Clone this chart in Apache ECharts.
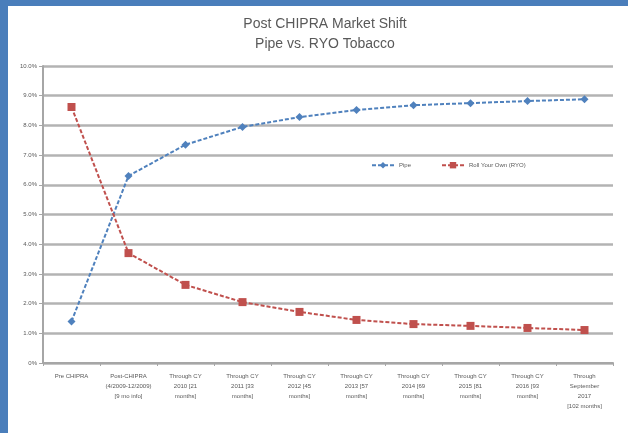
<!DOCTYPE html>
<html>
<head>
<meta charset="utf-8">
<script src="https://cdn.jsdelivr.net/npm/echarts@6/dist/echarts.min.js"></script>
<style>
  html, body { margin: 0; padding: 0; background: #ffffff; }
  #chart { width: 628px; height: 433px; }
</style>
</head>
<body>
<div id="chart"></div>
<script>
// categories along the bottom
const periods = [
  'Pre CHIPRA',
  'Post-CHIPRA\n(4/2009-12/2009)\n[9 mo info]',
  'Through CY\n2010 [21\nmonths]',
  'Through CY\n2011 [33\nmonths]',
  'Through CY\n2012 [45\nmonths]',
  'Through CY\n2013 [57\nmonths]',
  'Through CY\n2014 [69\nmonths]',
  'Through CY\n2015 [81\nmonths]',
  'Through CY\n2016 [93\nmonths]',
  'Through\nSeptember\n2017\n[102 months]'
];
// market share, percent
const pipeShare = [1.4, 6.3, 7.35, 7.95, 8.28, 8.52, 8.68, 8.75, 8.82, 8.88];
const ryoShare = [8.62, 3.7, 2.63, 2.05, 1.72, 1.45, 1.31, 1.25, 1.18, 1.11];
const yTicks = [0, 1, 2, 3, 4, 5, 6, 7, 8, 9, 10];

const myChart = echarts.init(document.getElementById('chart'));

const fontFam = 'Liberation Sans, DejaVu Sans, sans-serif';

const option = {
  backgroundColor: '#ffffff',
  animation: false,
  title: {
    text: 'Post CHIPRA Market Shift\nPipe vs. RYO Tobacco',
    left: 320,
    textAlign: 'center',
    top: 9,
    textStyle: {
      fontFamily: fontFam,
      fontSize: 14,
      fontWeight: 'normal',
      color: '#595959',
      lineHeight: 20
    }
  },
  graphic: [
    { type: 'rect', shape: { x: 0, y: 0, width: 8, height: 433 }, style: { fill: '#4a7ebb' } },
    { type: 'rect', shape: { x: 0, y: 0, width: 628, height: 6 }, style: { fill: '#4a7ebb' } }
  ],
  legend: {
    left: 366,
    top: 157,
    itemWidth: 22,
    itemHeight: 8,
    itemGap: 30,
    textStyle: { fontFamily: fontFam, fontSize: 6, color: '#595959' },
    data: ['Pipe', 'Roll Your Own (RYO)']
  },
  grid: {
    left: 43,
    right: 15,
    top: 66,
    bottom: 70,
    containLabel: false
  },
  xAxis: {
    type: 'category',
    data: periods,
    boundaryGap: true,
    axisLine: { lineStyle: { color: '#a6a6a6', width: 2 } },
    axisTick: { show: true, length: 3, lineStyle: { color: '#a6a6a6' } },
    axisLabel: {
      interval: 0,
      margin: 8,
      fontFamily: fontFam,
      fontSize: 6,
      lineHeight: 10,
      color: '#595959'
    }
  },
  yAxis: {
    type: 'value',
    min: 0,
    max: 10,
    interval: 1,
    axisLine: { show: true, lineStyle: { color: '#a6a6a6', width: 2 } },
    axisTick: { show: true, length: 4, lineStyle: { color: '#a6a6a6' } },
    splitLine: { show: true, lineStyle: { color: '#b3b3b3', width: 2.5 } },
    axisLabel: {
      margin: 6,
      fontFamily: fontFam,
      fontSize: 6,
      color: '#595959',
      formatter: function (v) {
        if (yTicks.indexOf(v) < 0) return '';
        return v === 0 ? '0%' : v.toFixed(1) + '%';
      }
    }
  },
  series: [
    {
      name: 'Pipe',
      type: 'line',
      data: pipeShare,
      symbol: 'diamond',
      symbolSize: 8,
      itemStyle: { color: '#4f81bd' },
      lineStyle: { color: '#4f81bd', width: 2, type: [4, 2] }
    },
    {
      name: 'Roll Your Own (RYO)',
      type: 'line',
      data: ryoShare,
      symbol: 'rect',
      symbolSize: 8,
      itemStyle: { color: '#c0504d' },
      lineStyle: { color: '#c0504d', width: 2, type: [4, 2] }
    }
  ]
};
myChart.setOption(option);
</script>
</body>
</html>
